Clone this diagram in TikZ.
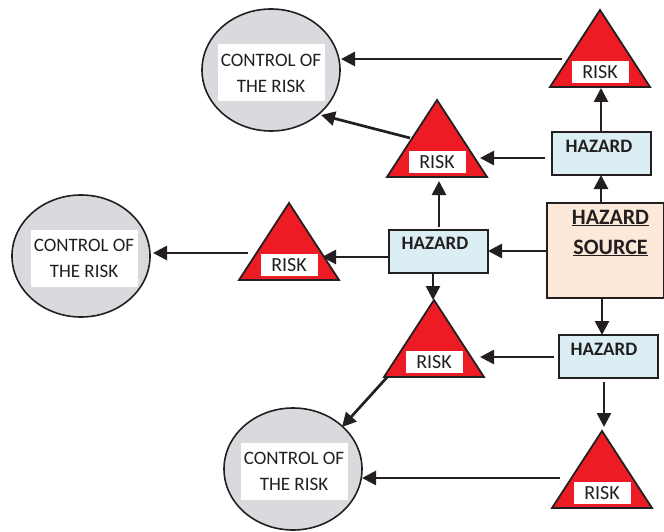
\documentclass[tikz,border=0pt]{standalone}
\usepackage{fontspec}
\setmainfont{Carlito}
\usetikzlibrary{arrows.meta,shapes.geometric}
\definecolor{ink}{RGB}{35,31,32}
\definecolor{riskred}{RGB}{237,28,36}
\definecolor{hazblue}{RGB}{218,238,243}
\definecolor{srcfill}{RGB}{253,233,217}
\definecolor{ctrlgray}{RGB}{216,218,221}
\tikzset{
  arr/.style={draw=ink, line width=2.7pt, -{Triangle[length=14pt,width=14pt]}},
  tri/.style={fill=riskred, draw=ink, line width=1.8pt, line join=miter},
  risklabel/.style={fill=white, minimum width=57pt, minimum height=22pt, inner sep=0pt, text=ink, font=\fontsize{20}{21}\selectfont},
  hazbox/.style={fill=hazblue, draw=ink, line width=2pt, minimum width=99pt, minimum height=43pt, inner sep=0pt},
  haztext/.style={text=ink, font=\bfseries\fontsize{19}{20}\selectfont},
  ctrl/.style={ellipse, fill=ctrlgray, draw=ink, line width=1.6pt, minimum width=138pt, minimum height=122pt, inner sep=0pt},
  ctrlbox/.style={fill=white, minimum width=107pt, minimum height=57pt, inner sep=0pt, text=ink, align=center, font=\fontsize{19}{26}\selectfont},
  srctext/.style={text=ink, font=\bfseries\fontsize{22}{23}\selectfont},
}
\newcommand\riskTri[3]{%
  \coordinate (#1-apex) at (#2,#3);
  \filldraw[tri] (#2,#3) -- ++(50,77) -- ++(-100,0) -- cycle;
  \node[risklabel] (#1) at (#2,#3+62) {RISK};
}
\begin{document}
\begin{tikzpicture}[x=1pt,y=-1pt]
\useasboundingbox (0,0) rectangle (664,532);

% control ellipses
\node[ctrl] (e1) at (271,70) {};
\node[ctrlbox] (e1t) at (271,73) {CONTROL OF\\THE RISK};
\node[ctrl] (e2) at (81,256) {};
\node[ctrlbox] (e2t) at (84,258) {CONTROL OF\\THE RISK};
\node[ctrl] (e3) at (293,469) {};
\node[ctrlbox] (e3t) at (294,471) {CONTROL OF\\THE RISK};

% hazard source
\node[fill=srcfill, draw=ink, line width=2pt, minimum width=117pt, minimum height=95pt, inner sep=0pt] (src) at (605,250.5) {};
\node[srctext] (srcA) at (610.5,218) {\underline{HAZARD}};
\node[srctext] (srcB) at (610.5,248) {\underline{SOURCE}};

% hazard boxes
\node[hazbox] (h1) at (601.5,153.5) {};
\node[haztext] (h1t) at (599,146) {HAZARD};
\node[hazbox] (h2) at (438,251.5) {};
\node[haztext] (h2t) at (435,243) {HAZARD};
\node[hazbox] (h3) at (608.5,356.5) {};
\node[haztext] (h3t) at (604,349) {HAZARD};

% connector end points
\coordinate (a1s) at (562,59);   \coordinate (a1e) at (341,59);
\coordinate (a2s) at (601,132);  \coordinate (a2e) at (601,88);
\coordinate (a3s) at (545,158);  \coordinate (a3e) at (480,158);
\coordinate (a4s) at (410,138);  \coordinate (a4e) at (321,115);
\coordinate (a5s) at (601,203);  \coordinate (a5e) at (601,175);
\coordinate (a6s) at (546,251);  \coordinate (a6e) at (488,251);
\coordinate (a7s) at (439,227);  \coordinate (a7e) at (439,181);
\coordinate (a8s) at (433,273);  \coordinate (a8e) at (433,300);
\coordinate (a9s) at (388,257);  \coordinate (a9e) at (322,257);
\coordinate (a10s) at (248,253); \coordinate (a10e) at (153,253);
\coordinate (a11s) at (602,298); \coordinate (a11e) at (602,335);
\coordinate (a12s) at (554,357); \coordinate (a12e) at (480,357);
\coordinate (a13s) at (604,382); \coordinate (a13e) at (604,427);
\coordinate (a14s) at (560,478); \coordinate (a14e) at (362,478);
\coordinate (a15s) at (390,374); \coordinate (a15e) at (342,427);

% connectors
\draw[arr] (a1s) -- (a1e);
\draw[arr] (a2s) -- (a2e);
\draw[arr] (a3s) -- (a3e);
\draw[arr] (a4s) -- (a4e);
\draw[arr] (a5s) -- (a5e);
\draw[arr] (a6s) -- (a6e);
\draw[arr] (a7s) -- (a7e);
\draw[arr] (a8s) -- (a8e);
\draw[arr] (a9s) -- (a9e);
\draw[arr] (a10s) -- (a10e);
\draw[arr] (a11s) -- (a11e);
\draw[arr] (a12s) -- (a12e);
\draw[arr] (a13s) -- (a13e);
\draw[arr] (a14s) -- (a14e);
\draw[arr] (a15s) -- (a15e);

% risk triangles
\riskTri{t1}{600}{10}
\riskTri{t2}{437}{100}
\riskTri{t3}{289}{203}
\riskTri{t4}{434}{300}
\riskTri{t5}{602}{431}

\end{tikzpicture}
\end{document}
